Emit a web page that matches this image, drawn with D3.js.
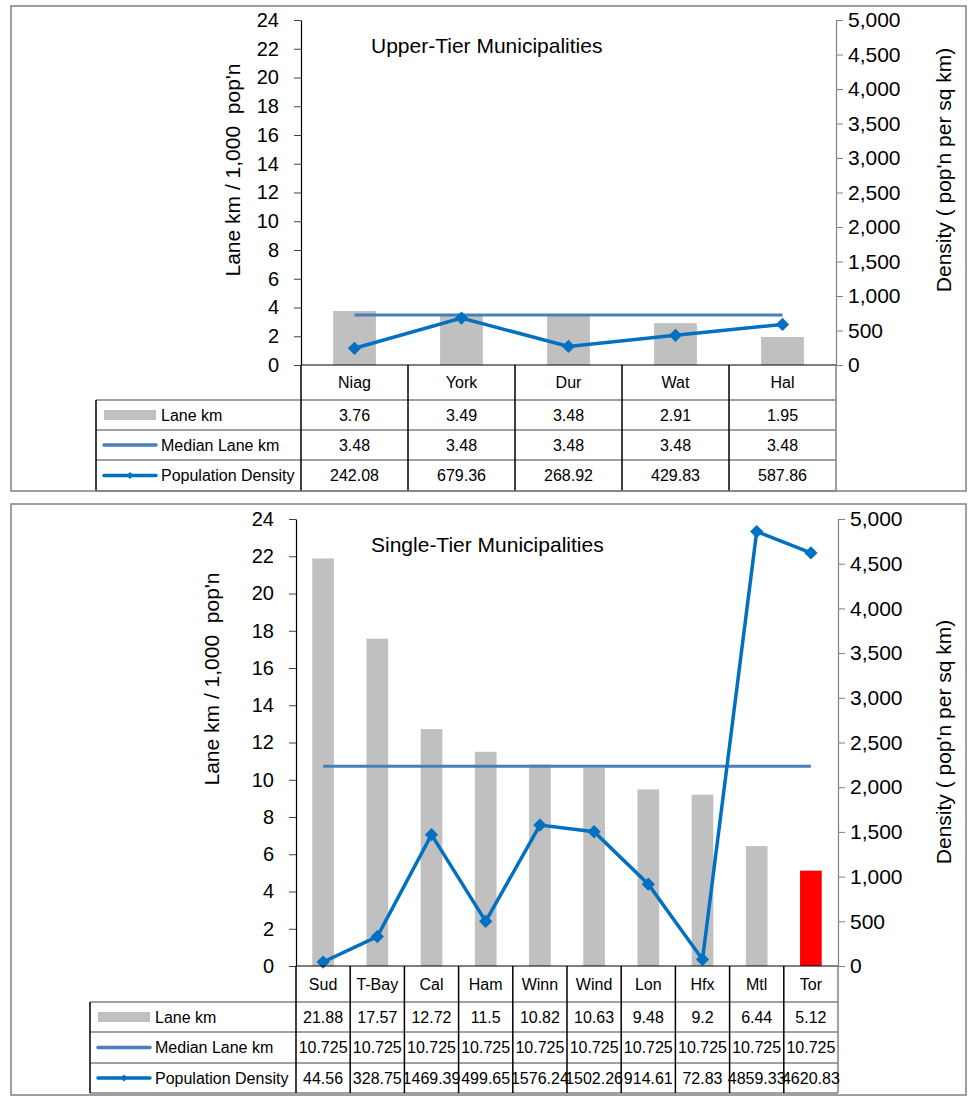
<!DOCTYPE html>
<html>
<head>
<meta charset="utf-8">
<script src="https://cdn.jsdelivr.net/npm/d3@7"></script>
<style>
  html, body { margin: 0; padding: 0; background: #fff; }
  svg { display: block; font-family: "Liberation Sans", Arial, sans-serif; }
</style>
</head>
<body>
<svg id="chart" width="969" height="1096"></svg>
<script>
// ---- data ----
const seriesNames = ["Lane km", "Median Lane km", "Population Density"];
const laneTicks = [0, 2, 4, 6, 8, 10, 12, 14, 16, 18, 20, 22, 24];
const densityTicks = [0, 500, 1000, 1500, 2000, 2500, 3000, 3500, 4000, 4500, 5000];

const upperCategories = ["Niag", "York", "Dur", "Wat", "Hal"];
const upperLaneKm = [3.76, 3.49, 3.48, 2.91, 1.95];
const upperMedianLaneKm = [3.48, 3.48, 3.48, 3.48, 3.48];
const upperDensity = [242.08, 679.36, 268.92, 429.83, 587.86];

const singleCategories = ["Sud", "T-Bay", "Cal", "Ham", "Winn", "Wind", "Lon", "Hfx", "Mtl", "Tor"];
const singleLaneKm = [21.88, 17.57, 12.72, 11.5, 10.82, 10.63, 9.48, 9.2, 6.44, 5.12];
const singleMedianLaneKm = [10.725, 10.725, 10.725, 10.725, 10.725, 10.725, 10.725, 10.725, 10.725, 10.725];
const singleDensity = [44.56, 328.75, 1469.39, 499.65, 1576.24, 1502.26, 914.61, 72.83, 4859.33, 4620.83];
const singleHighlighted = ["Tor"];

// ---- styles ----
const BAR = "#c0c0c0", BAR_HI = "#ff0000";
const MEDIAN = "#4a7ebb", DENSITY = "#0070c0";
const FRAME = "#808080";

const svg = d3.select("#chart");
svg.append("rect").attr("width", 969).attr("height", 1096).attr("fill", "#fff");

function drawPanel(p) {
  const g = svg.append("g");

  const x = d3.scaleBand().domain(p.categories).range([p.left, p.right]);
  const yLane = d3.scaleLinear().domain([0, 24]).range([p.bottom, p.top]);
  const yDen = d3.scaleLinear().domain([0, 5000]).range([p.bottom, p.top]);
  const bw = x.bandwidth();
  const cx = c => x(c) + bw / 2;

  // bars
  g.append("g").selectAll("rect")
    .data(p.categories.map((c, i) => ({ c, v: p.lane[i] })))
    .join("rect")
    .attr("x", d => x(d.c) + bw * 0.3)
    .attr("width", bw * 0.4)
    .attr("y", d => yLane(d.v))
    .attr("height", d => yLane(0) - yLane(d.v))
    .attr("fill", d => p.highlighted.includes(d.c) ? BAR_HI : BAR);

  // median line
  const medianPts = p.categories.map((c, i) => [cx(c), yLane(p.median[i])]);
  g.append("path").attr("d", d3.line()(medianPts))
    .attr("fill", "none").attr("stroke", MEDIAN).attr("stroke-width", 3);

  // density line + diamond markers
  const denPts = p.categories.map((c, i) => [cx(c), yDen(p.density[i])]);
  g.append("path").attr("d", d3.line()(denPts))
    .attr("fill", "none").attr("stroke", DENSITY).attr("stroke-width", 3.5)
    .attr("stroke-linejoin", "miter");
  g.append("g").selectAll("path")
    .data(denPts).join("path")
    .attr("d", d3.symbol(d3.symbolSquare, 88)())
    .attr("transform", d => `translate(${d[0]},${d[1]}) rotate(45)`)
    .attr("fill", DENSITY);

  // left axis
  const ax = g.append("g").attr("transform", `translate(${p.left},0)`)
    .call(d3.axisLeft(yLane).tickValues(laneTicks).tickSize(7).tickSizeOuter(0).tickPadding(p.leftPad));
  ax.select(".domain").attr("stroke", "#000").attr("stroke-width", 1.2);
  ax.selectAll(".tick line").attr("stroke", "#404040");
  ax.selectAll("text").attr("font-size", 20).attr("font-family", "Liberation Sans, Arial").attr("fill", "#000");

  // right axis
  const ar = g.append("g").attr("transform", `translate(${p.right},0)`)
    .call(d3.axisRight(yDen).tickValues(densityTicks).tickFormat(d3.format(",")).tickSize(7).tickSizeOuter(0).tickPadding(5));
  ar.select(".domain").attr("stroke", "#808080").attr("stroke-width", 1.2);
  ar.selectAll(".tick line").attr("stroke", "#808080");
  ar.selectAll("text").attr("font-size", 21).attr("font-family", "Liberation Sans, Arial").attr("fill", "#000");

  // axis titles
  g.append("text").attr("transform", `translate(${p.leftTitle[0]},${p.leftTitle[1]}) rotate(-90)`)
    .attr("text-anchor", "middle").attr("dominant-baseline", "central")
    .attr("font-size", 21).text("Lane km / 1,000  pop'n").style("white-space", "pre");
  g.append("text").attr("transform", `translate(${p.rightTitle[0]},${p.rightTitle[1]}) rotate(-90)`)
    .attr("text-anchor", "middle").attr("dominant-baseline", "central")
    .attr("font-size", 21).text("Density ( pop'n per sq km)");

  // chart title
  g.append("text").attr("x", p.title[0]).attr("y", p.title[1])
    .attr("font-size", 21).text(p.titleText);

  // ---- data table ----
  const rows = p.rowEdges; // [axis, catRowBottom, r1Bottom, r2Bottom, tableBottom]
  const grid = g.append("g");
  // horizontal rules
  rows.slice(1).forEach(yv => {
    grid.append("line").attr("x1", p.tableLeft).attr("x2", p.right)
      .attr("y1", yv).attr("y2", yv).attr("stroke", FRAME).attr("stroke-width", 1.5);
  });
  grid.append("line").attr("x1", p.left).attr("x2", p.right)
    .attr("y1", rows[0]).attr("y2", rows[0]).attr("stroke", "#000").attr("stroke-width", 1.2);
  // vertical rules at category boundaries
  const bounds = p.categories.map(c => x(c)).concat([p.right]);
  bounds.forEach((bx, i) => {
    grid.append("line").attr("x1", bx).attr("x2", bx)
      .attr("y1", rows[0]).attr("y2", rows[4])
      .attr("stroke", i === bounds.length - 1 ? FRAME : "#000").attr("stroke-width", 1.5);
  });
  grid.append("line").attr("x1", p.tableLeft).attr("x2", p.tableLeft)
    .attr("y1", rows[1]).attr("y2", rows[4]).attr("stroke", "#000").attr("stroke-width", 1.5);

  const mid = i => (rows[i] + rows[i + 1]) / 2;
  const cellText = (xv, yv, t) => g.append("text").attr("x", xv).attr("y", yv)
    .attr("text-anchor", "middle").attr("dominant-baseline", "central")
    .attr("font-size", 16).text(t);

  p.categories.forEach((c, i) => {
    cellText(cx(c), mid(0), c);
    cellText(cx(c), mid(1), String(p.lane[i]));
    cellText(cx(c), mid(2), String(p.median[i]));
    cellText(cx(c), mid(3), String(p.density[i]));
  });

  // legend keys in the first column
  const kx0 = p.tableLeft + 8, kx1 = p.tableLeft + 60;
  g.append("rect").attr("x", kx0).attr("y", mid(1) - 5).attr("width", kx1 - kx0).attr("height", 10).attr("fill", BAR);
  g.append("line").attr("x1", kx0).attr("x2", kx1).attr("y1", mid(2)).attr("y2", mid(2))
    .attr("stroke", MEDIAN).attr("stroke-width", 3.5).attr("stroke-linecap", "round");
  g.append("line").attr("x1", kx0).attr("x2", kx1).attr("y1", mid(3)).attr("y2", mid(3))
    .attr("stroke", DENSITY).attr("stroke-width", 3.5).attr("stroke-linecap", "round");
  g.append("path").attr("d", d3.symbol(d3.symbolSquare, 26)())
    .attr("transform", `translate(${(kx0 + kx1) / 2},${mid(3)}) rotate(45)`).attr("fill", DENSITY);
  seriesNames.forEach((s, i) => {
    g.append("text").attr("x", p.tableLeft + 65).attr("y", mid(i + 1))
      .attr("dominant-baseline", "central").attr("font-size", 16).text(s);
  });

  // panel frame
  g.append("rect").attr("x", p.box[0]).attr("y", p.box[1])
    .attr("width", p.box[2] - p.box[0]).attr("height", p.box[3] - p.box[1])
    .attr("fill", "none").attr("stroke", FRAME).attr("stroke-width", 1.5);
}

drawPanel({
  titleText: "Upper-Tier Municipalities",
  categories: upperCategories, lane: upperLaneKm, median: upperMedianLaneKm,
  density: upperDensity, highlighted: [],
  box: [11, 6, 966, 491],
  left: 301, right: 836, top: 20, bottom: 365,
  leftPad: 15,
  rowEdges: [365, 400, 430, 460, 491],
  tableLeft: 96,
  title: [371, 53],
  leftTitle: [232, 170], rightTitle: [943, 170]
});

drawPanel({
  titleText: "Single-Tier Municipalities",
  categories: singleCategories, lane: singleLaneKm, median: singleMedianLaneKm,
  density: singleDensity, highlighted: singleHighlighted,
  box: [11, 504, 966, 1095],
  left: 296, right: 838, top: 519, bottom: 966,
  leftPad: 15,
  rowEdges: [966, 1002, 1032, 1063, 1093],
  tableLeft: 90,
  title: [371, 552],
  leftTitle: [211, 679], rightTitle: [943, 742]
});
</script>
</body>
</html>
